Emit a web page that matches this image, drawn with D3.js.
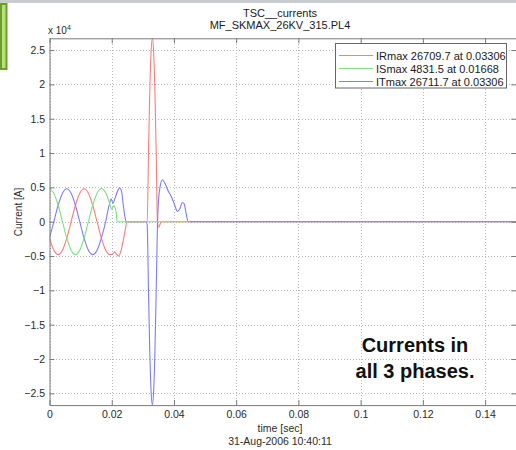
<!DOCTYPE html>
<html>
<head>
<meta charset="utf-8">
<script src="https://cdn.jsdelivr.net/npm/d3@7"></script>
<style>
  html, body { margin: 0; padding: 0; background: #fff; }
  svg { display: block; font-family: "Liberation Sans", Arial, Helvetica, sans-serif; }
</style>
</head>
<body>
<svg id="chart" width="516" height="450"></svg>
<script>
// ---- Data (values in units of 10^4 A, time in seconds) ----
const xTicks = [0, 0.02, 0.04, 0.06, 0.08, 0.1, 0.12, 0.14];
const yTicks = [-2.5, -2, -1.5, -1, -0.5, 0, 0.5, 1, 1.5, 2, 2.5];

const legendLabels = ["IRmax 26709.7 at 0.03306", "ISmax 4831.5 at 0.01668", "ITmax 26711.7 at 0.03306"];
const seriesColors = ["#ff7c7c", "#7ee27e", "#7c7cff"];

const timeIR = [0,0.00139,0.00278,0.00417,0.00556,0.00694,0.00833,0.00972,0.01111,0.0125,0.01389,0.01528,0.01667,0.01806,0.01944,
  0.0203,0.0210,0.0216,0.0221,0.0228,0.0236,0.0243,0.0249,0.0312,0.0314,0.03182,0.03223,0.03265,0.03306,0.03347,0.03388,0.03429,0.0347,0.0351,0.0355,0.0359,0.15];
const currentIR = [-0.24,-0.416,-0.48,-0.416,-0.24,0,0.24,0.416,0.48,0.416,0.24,0,-0.24,-0.416,-0.48,
  -0.47,-0.44,-0.48,-0.50,-0.45,-0.30,-0.13,0,0,0,1.02,1.89,2.47,2.67097,2.47,1.89,1.02,0,-0.08,-0.04,0,0];

const timeIS = [0,0.00139,0.00278,0.00417,0.00556,0.00694,0.00833,0.00972,0.01111,0.0125,0.01389,0.01528,0.01668,
  0.0175,0.0184,0.0193,0.0200,0.0206,0.0211,0.0215,0.0217,0.0448];
const currentIS = [0.48,0.416,0.24,0,-0.24,-0.416,-0.48,-0.416,-0.24,0,0.24,0.416,0.48315,
  0.46,0.39,0.27,0.18,0.23,0.20,0.12,0,0];

const timeIT = [0,0.00139,0.00278,0.00417,0.00556,0.00694,0.00833,0.00972,0.01111,0.0125,0.01389,0.01528,0.01667,0.01806,
  0.0192,0.0198,0.0204,0.0212,0.0220,0.0226,0.0232,0.0237,0.0242,0.0247,0.0311,0.0314,0.03182,0.03223,0.03265,0.03306,0.03347,0.03388,0.03429,0.0347,
  0.0350,0.0355,0.0363,0.0371,0.0381,0.0391,0.0401,0.0411,0.0419,0.0427,0.0433,0.0439,0.0446,0.15];
const currentIT = [-0.24,0,0.24,0.416,0.48,0.416,0.24,0,-0.24,-0.416,-0.48,-0.416,-0.24,0,
  0.25,0.33,0.27,0.36,0.46,0.49,0.43,0.25,0.08,0,0,-0.05,-1.02,-1.89,-2.47,-2.67117,-2.47,-1.89,-1.02,-0.05,
  0.28,0.50,0.61,0.56,0.45,0.37,0.26,0.15,0.19,0.28,0.26,0.12,0,0];

// ---- Layout ----
const svg = d3.select("#chart");
const L = 49.5, R = 516.2, T = 38.3, B = 405.1;
const x = d3.scaleLinear().domain([0, 0.15]).range([L, R]);
const y = d3.scaleLinear().domain([-2.67117, 2.67117]).range([B, T]);

// slide decorations
svg.append("rect").attr("x", 0).attr("y", 0).attr("width", 516).attr("height", 3).attr("fill", "#c9cdd1");
svg.append("rect").attr("x", 1).attr("y", 4).attr("width", 5.5).attr("height", 65)
  .attr("fill", "#b7e07a").attr("stroke", "#6a9d2c").attr("stroke-width", 2);

// titles
svg.append("text").attr("x", 280).attr("y", 16.5).attr("text-anchor", "middle")
  .attr("font-size", 11).attr("fill", "#1a1a1a").text("TSC__currents");
svg.append("text").attr("x", 280).attr("y", 28.5).attr("text-anchor", "middle")
  .attr("font-size", 11).attr("fill", "#1a1a1a").text("MF_SKMAX_26KV_315.PL4");

// grid
const gridG = svg.append("g").attr("class", "grid");
gridG.append("g").attr("transform", `translate(0,${B})`)
  .call(d3.axisBottom(x).tickValues(xTicks).tickSize(-(B - T)).tickFormat(""))
  .call(g => g.select(".domain").remove());
gridG.append("g").attr("transform", `translate(${L},0)`)
  .call(d3.axisLeft(y).tickValues(yTicks).tickSize(-(R - L)).tickFormat(""))
  .call(g => g.select(".domain").remove());
gridG.selectAll("line").attr("stroke", "#b8b8b8").attr("stroke-dasharray", "1,2").attr("shape-rendering", "crispEdges");

// clip
svg.append("clipPath").attr("id", "clip").append("rect")
  .attr("x", L).attr("y", T).attr("width", R - L).attr("height", B - T);

const line = d3.line().x(d => x(d[0])).y(d => y(d[1])).curve(d3.curveMonotoneX);
const series = [
  {t: timeIR, v: currentIR, c: seriesColors[0]},
  {t: timeIT, v: currentIT, c: seriesColors[2]},
  {t: timeIS, v: currentIS, c: seriesColors[1]}
];
const plotG = svg.append("g").attr("clip-path", "url(#clip)");
series.forEach(s => {
  plotG.append("path").datum(s.t.map((t, i) => [t, s.v[i]]))
    .attr("d", line).attr("fill", "none").attr("stroke", s.c).attr("stroke-width", 1.1);
});

// axes (inward ticks on all sides)
function styleAxis(g) {
  g.select(".domain").attr("stroke", "#7a7a7a");
  g.selectAll(".tick line").attr("stroke", "#7a7a7a");
  g.selectAll("text").attr("fill", "#2a2a2a").attr("font-size", 10.5);
}
svg.append("g").attr("transform", `translate(0,${B})`)
  .call(d3.axisBottom(x).tickValues(xTicks).tickSizeInner(-5).tickSizeOuter(0).tickPadding(5.5).tickFormat(d3.format("")))
  .call(styleAxis);
svg.append("g").attr("transform", `translate(0,${T})`)
  .call(d3.axisTop(x).tickValues(xTicks).tickSizeInner(-5).tickSizeOuter(0).tickFormat(""))
  .call(styleAxis);
svg.append("g").attr("transform", `translate(${L},0)`)
  .call(d3.axisLeft(y).tickValues(yTicks).tickSizeInner(-5).tickSizeOuter(0).tickPadding(4.5).tickFormat(d3.format("")))
  .call(styleAxis);
svg.append("g").attr("transform", `translate(${R},0)`)
  .call(d3.axisRight(y).tickValues(yTicks).tickSizeInner(-5).tickSizeOuter(0).tickFormat(""))
  .call(styleAxis);

// exponent label
const ex = svg.append("text").attr("x", 48).attr("y", 34).attr("font-size", 10).attr("fill", "#2a2a2a");
ex.append("tspan").text("x 10");
ex.append("tspan").attr("font-size", 7).attr("dy", -4).text("4");

// axis labels
svg.append("text").attr("transform", "translate(22,212) rotate(-90)").attr("text-anchor", "middle")
  .attr("font-size", 10).attr("fill", "#2a2a2a").text("Current [A]");
svg.append("text").attr("x", 280).attr("y", 432).attr("text-anchor", "middle")
  .attr("font-size", 10.5).attr("fill", "#2a2a2a").text("time [sec]");
svg.append("text").attr("x", 280).attr("y", 445).attr("text-anchor", "middle")
  .attr("font-size", 10.5).attr("fill", "#2a2a2a").text("31-Aug-2006 10:40:11");

// legend
const lg = svg.append("g");
lg.append("rect").attr("x", 335.5).attr("y", 43.5).attr("width", 171).attr("height", 44.5)
  .attr("fill", "#fff").attr("stroke", "#666");
legendLabels.forEach((lab, i) => {
  const yy = 55.5 + i * 13;
  lg.append("line").attr("x1", 339).attr("x2", 373).attr("y1", yy).attr("y2", yy)
    .attr("stroke", seriesColors[i]).attr("stroke-width", 1.1);
  lg.append("text").attr("x", 376).attr("y", yy + 4).attr("font-size", 11).attr("fill", "#1a1a1a").text(lab);
});

// annotation
svg.append("text").attr("x", 415).attr("y", 352).attr("text-anchor", "middle")
  .attr("font-size", 20).attr("font-weight", "bold").attr("fill", "#111").text("Currents in");
svg.append("text").attr("x", 415).attr("y", 378).attr("text-anchor", "middle")
  .attr("font-size", 20).attr("font-weight", "bold").attr("fill", "#111").text("all 3 phases.");
</script>
</body>
</html>
